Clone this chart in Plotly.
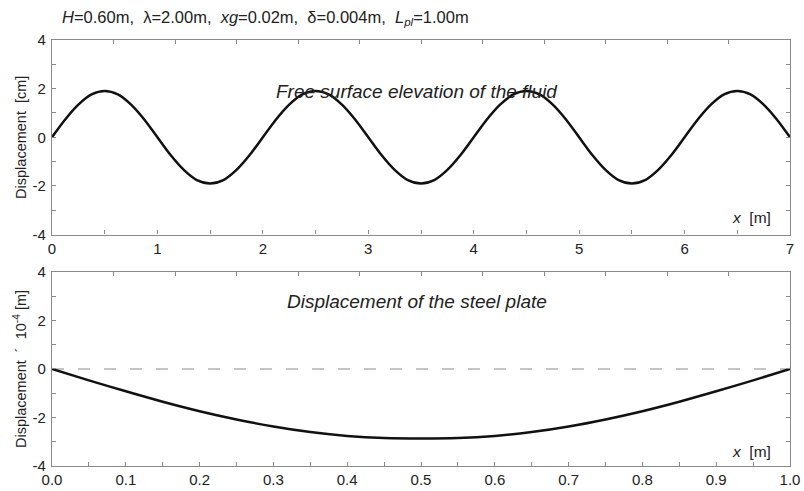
import plotly.graph_objects as go

# ---- data ----
surface_x = [0, 0.125, 0.25, 0.375, 0.5, 0.625, 0.75, 0.875,
             1.0, 1.125, 1.25, 1.375, 1.5, 1.625, 1.75, 1.875,
             2.0, 2.125, 2.25, 2.375, 2.5, 2.625, 2.75, 2.875,
             3.0, 3.125, 3.25, 3.375, 3.5, 3.625, 3.75, 3.875,
             4.0, 4.125, 4.25, 4.375, 4.5, 4.625, 4.75, 4.875,
             5.0, 5.125, 5.25, 5.375, 5.5, 5.625, 5.75, 5.875,
             6.0, 6.125, 6.25, 6.375, 6.5, 6.625, 6.75, 6.875, 7.0]
surface_y = [0, 0.73, 1.34, 1.76, 1.9, 1.76, 1.34, 0.73,
             0, -0.73, -1.34, -1.76, -1.9, -1.76, -1.34, -0.73,
             0, 0.73, 1.34, 1.76, 1.9, 1.76, 1.34, 0.73,
             0, -0.73, -1.34, -1.76, -1.9, -1.76, -1.34, -0.73,
             0, 0.73, 1.34, 1.76, 1.9, 1.76, 1.34, 0.73,
             0, -0.73, -1.34, -1.76, -1.9, -1.76, -1.34, -0.73,
             0, 0.73, 1.34, 1.76, 1.9, 1.76, 1.34, 0.73, 0]

plate_x = [0, 0.05, 0.1, 0.15, 0.2, 0.25, 0.3, 0.35, 0.4, 0.45, 0.5,
           0.55, 0.6, 0.65, 0.7, 0.75, 0.8, 0.85, 0.9, 0.95, 1.0]
plate_y = [0, -0.47, -0.92, -1.35, -1.74, -2.08, -2.37, -2.60, -2.76, -2.85, -2.87,
           -2.85, -2.76, -2.60, -2.37, -2.08, -1.74, -1.35, -0.92, -0.47, 0]

ref_x = [0, 1]
ref_y = [0, 0]

y_tick_vals = [-4, -2, 0, 2, 4]
y_tick_text = ["-4", "-2", "0", "2", "4"]
top_edge_ticks = list(range(13))

title_text = ("<i>H</i>=0.60m, \u00a0λ=2.00m, \u00a0<i>xg</i>=0.02m, \u00a0δ=0.004m, \u00a0"
              "<i>L</i><sub><i>pl</i></sub>=1.00m")

FONT = "Liberation Sans, Arial, sans-serif"
AX = "#8a8a8a"
TXT = "#222222"

fig = go.Figure()
fig.add_trace(go.Scatter(x=surface_x, y=surface_y, mode="lines",
                         line=dict(color="#111111", width=2.5, shape="spline", smoothing=0.8),
                         xaxis="x", yaxis="y", showlegend=False))
fig.add_trace(go.Scatter(x=ref_x, y=ref_y, mode="lines",
                         line=dict(color="#c4c4c4", width=2, dash="12px,14px"),
                         xaxis="x2", yaxis="y2", showlegend=False))
fig.add_trace(go.Scatter(x=plate_x, y=plate_y, mode="lines",
                         line=dict(color="#111111", width=2.5, shape="spline", smoothing=0.8),
                         xaxis="x2", yaxis="y2", showlegend=False))
# invisible traces to bind the top-edge tick axes
fig.add_trace(go.Scatter(x=[], y=[], xaxis="x3", yaxis="y", showlegend=False, hoverinfo="skip"))
fig.add_trace(go.Scatter(x=[], y=[], xaxis="x4", yaxis="y2", showlegend=False, hoverinfo="skip"))

common_axis = dict(showline=True, linecolor=AX, linewidth=1.2, showgrid=False, zeroline=False,
                   ticks="inside", ticklen=4, tickcolor=AX, tickwidth=1, automargin=False,
                   tickfont=dict(family=FONT, size=15, color=TXT))

fig.update_layout(
    width=804, height=491,
    margin=dict(l=52, r=14, t=40, b=25),
    paper_bgcolor="white", plot_bgcolor="white",
    font=dict(family=FONT, color=TXT),
    title=dict(text=title_text, x=62 / 804, xanchor="left", xref="container",
               y=1 - 17 / 491, yanchor="middle", yref="container", automargin=False,
               pad=dict(l=0, r=0, t=0, b=0),
               font=dict(family=FONT, size=16.5, color=TXT)),
    xaxis=dict(domain=[0, 1], anchor="y", range=[0, 7], dtick=1, mirror=True,
               minor=dict(dtick=0.5, ticks="inside", ticklen=4, tickcolor=AX), **common_axis),
    yaxis=dict(domain=[0.5434, 1], anchor="x", range=[-4, 4], tickvals=y_tick_vals,
               ticktext=y_tick_text, mirror="allticks", ticklabelstandoff=2,
               minor=dict(dtick=1, ticks="inside", ticklen=4, tickcolor=AX),
               title=dict(text="Displacement  [cm]", standoff=2,
                          font=dict(family=FONT, size=14.5, color=TXT)),
               **common_axis),
    xaxis2=dict(domain=[0, 1], anchor="y2", range=[0, 1], dtick=0.1, tickformat=".1f", mirror=True,
                minor=dict(dtick=0.05, ticks="inside", ticklen=4, tickcolor=AX), **common_axis),
    yaxis2=dict(domain=[0, 0.4554], anchor="x2", range=[-4, 4], tickvals=y_tick_vals,
                ticktext=y_tick_text, mirror="allticks", ticklabelstandoff=2,
                minor=dict(dtick=1, ticks="inside", ticklen=4, tickcolor=AX),
                title=dict(text="Displacement  ´  10<sup>-4</sup> [m]", standoff=2,
                           font=dict(family=FONT, size=14.5, color=TXT)),
                **common_axis),
    xaxis3=dict(overlaying="x", anchor="y", side="top", range=[0, 12], tickvals=top_edge_ticks,
                showticklabels=False, ticks="inside", ticklen=4, tickcolor=AX, automargin=False,
                showline=False, showgrid=False, zeroline=False),
    xaxis4=dict(overlaying="x2", anchor="y2", side="top", range=[0, 12], tickvals=top_edge_ticks,
                showticklabels=False, ticks="inside", ticklen=4, tickcolor=AX, automargin=False,
                showline=False, showgrid=False, zeroline=False),
    annotations=[
        dict(text="<i>Free surface elevation of the fluid</i>", x=0.4946, y=0.878,
             xref="paper", yref="paper", showarrow=False, xanchor="center", yanchor="middle",
             font=dict(family=FONT, size=19, color=TXT)),
        dict(text="<i>Displacement of the steel plate</i>", x=0.4946, y=0.385,
             xref="paper", yref="paper", showarrow=False, xanchor="center", yanchor="middle",
             font=dict(family=FONT, size=19, color=TXT)),
        dict(text="<i>x</i>  [m]", x=0.9485, y=0.5845, xref="paper", yref="paper",
             showarrow=False, xanchor="center", yanchor="middle",
             font=dict(family=FONT, size=15.5, color=TXT)),
        dict(text="<i>x</i>  [m]", x=0.9485, y=0.0352, xref="paper", yref="paper",
             showarrow=False, xanchor="center", yanchor="middle",
             font=dict(family=FONT, size=15.5, color=TXT)),
    ],
)

fig.write_html("out.html", config={"displayModeBar": False},
               post_script="document.body.style.margin='0px';")
